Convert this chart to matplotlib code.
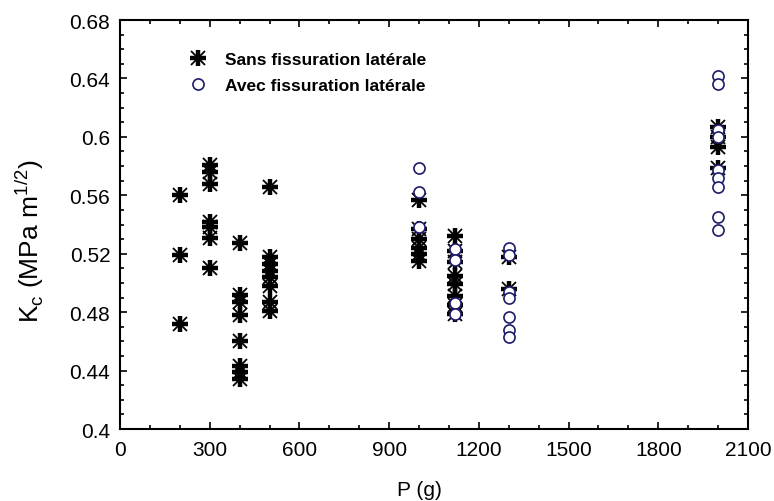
import matplotlib
matplotlib.use("Agg")
import matplotlib.pyplot as plt
from matplotlib.legend_handler import HandlerTuple
from matplotlib.ticker import MultipleLocator, FuncFormatter

# --- data ---
sans_x = [200, 200, 200,
          300, 300, 300, 300, 300, 300, 300,
          400, 400, 400, 400, 400, 400, 400, 400,
          500, 500, 500, 500, 500, 500, 500, 500,
          1000, 1000, 1000, 1000, 1000, 1000,
          1120, 1120, 1120, 1120, 1120, 1120, 1120, 1120,
          1300, 1300,
          2000, 2000, 2000, 2000]
sans_y = [0.560, 0.519, 0.472,
          0.581, 0.576, 0.568, 0.542, 0.538, 0.531, 0.510,
          0.527, 0.492, 0.487, 0.478, 0.460, 0.443, 0.439, 0.434,
          0.566, 0.518, 0.513, 0.508, 0.504, 0.498, 0.487, 0.481,
          0.557, 0.537, 0.530, 0.524, 0.520, 0.515,
          0.532, 0.522, 0.514, 0.505, 0.499, 0.491, 0.485, 0.479,
          0.518, 0.496,
          0.607, 0.600, 0.593, 0.579]

avec_x = [1000, 1000, 1000,
          1120, 1120, 1120, 1120,
          1300, 1300, 1300, 1300, 1300, 1300, 1300,
          2000, 2000, 2000, 2000, 2000, 2000, 2000, 2000, 2000]
avec_y = [0.579, 0.562, 0.538,
          0.523, 0.516, 0.486, 0.479,
          0.524, 0.519, 0.494, 0.490, 0.477, 0.468, 0.463,
          0.642, 0.636, 0.605, 0.600, 0.577, 0.572, 0.566, 0.545, 0.536]

labels = ["Sans fissuration latérale", "Avec fissuration latérale"]

plt.rcParams['font.family'] = ['Liberation Sans', 'DejaVu Sans']

fig = plt.figure(figsize=(7.74, 5.02), dpi=100)
ax = fig.add_axes([120/774, 1 - 430/502, (748-120)/774, (430-21)/502])

navy = '#1c1c6b'
h_plus, = ax.plot(sans_x, sans_y, ls='none', marker='+', ms=12, mew=3.2, color='black', zorder=3)
h_x, = ax.plot(sans_x, sans_y, ls='none', marker='x', ms=10, mew=1.3, color='black', zorder=3)
h_o, = ax.plot(avec_x, avec_y, ls='none', marker='o', ms=8, mfc='white', mec=navy, mew=1.2, zorder=4)

ax.set_xlim(0, 2100)
ax.set_ylim(0.4, 0.68)
ax.xaxis.set_major_locator(MultipleLocator(300))
ax.xaxis.set_minor_locator(MultipleLocator(100))
ax.yaxis.set_major_locator(MultipleLocator(0.04))
ax.yaxis.set_minor_locator(MultipleLocator(0.01))
ax.xaxis.set_major_formatter(FuncFormatter(lambda v, p: f"{v:g}"))
ax.yaxis.set_major_formatter(FuncFormatter(lambda v, p: f"{v:.2f}".rstrip('0').rstrip('.')))

ax.tick_params(which='both', direction='in', top=True, right=True, width=1.2, labelsize=15)
ax.tick_params(which='major', length=5)
ax.tick_params(which='minor', length=3)
ax.tick_params(axis='x', pad=8)
ax.tick_params(axis='y', pad=7)
for s in ax.spines.values():
    s.set_linewidth(1.5)

ax.set_xlabel("P (g)", fontsize=15)
ax.xaxis.set_label_coords(0.477, -0.125)
ax.set_ylabel(r"K$_\mathregular{c}$ (MPa m$^\mathregular{1/2}$)", fontsize=19)
ax.yaxis.set_label_coords(-0.118, 0.462)

leg = ax.legend([(h_plus, h_x), h_o], labels, handler_map={tuple: HandlerTuple(ndivide=1)},
                loc='upper left', bbox_to_anchor=(0.108, 0.922), frameon=False,
                borderaxespad=0, borderpad=0,
                prop={'weight': 'bold', 'size': 12.5}, handlelength=1.2, handletextpad=0.95,
                labelspacing=0.63)

fig.savefig("out.png", dpi=100)
